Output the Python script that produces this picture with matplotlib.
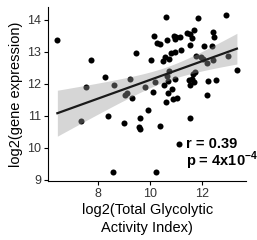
import numpy as np
import matplotlib
matplotlib.use("Agg")
import matplotlib.pyplot as plt

plt.rcParams['font.family'] = ['Liberation Sans', 'DejaVu Sans']
plt.rcParams['mathtext.fontset'] = 'custom'
plt.rcParams['mathtext.rm'] = 'Liberation Sans'
plt.rcParams['mathtext.bf'] = 'Liberation Sans:bold'

# glycolytic activity index (log2) vs gene expression (log2)
gai = [6.41, 7.70, 7.50, 7.31, 8.27, 8.36, 8.59, 8.57, 9.00, 9.04,
       9.11, 9.21, 9.30, 9.46, 9.62, 9.56, 9.59, 9.81, 9.90, 10.02,
       10.11, 10.16, 10.20, 10.24, 10.27, 10.37, 10.37, 10.50, 10.56, 10.61,
       10.65, 10.55, 10.65, 10.63, 10.68, 10.71, 10.75, 10.75, 10.82, 10.85,
       10.88, 10.91, 10.95, 10.95, 10.97, 11.04, 11.17, 11.19, 11.13, 11.42,
       11.53, 11.68, 11.62, 11.55, 11.49, 11.62, 11.66, 11.53, 11.68, 11.53,
       11.76, 11.75, 11.85, 11.96, 12.05, 12.10, 12.22, 12.23, 12.22, 12.39,
       12.43, 12.45, 12.49, 12.55, 12.94, 13.03, 13.36, 11.01]
expr = [13.36, 12.73, 11.90, 10.83, 12.20, 10.99, 11.96, 9.25, 10.78, 11.65,
        11.70, 12.14, 11.54, 12.95, 10.93, 10.65, 10.57, 11.90, 11.18, 12.73,
        11.73, 13.48, 12.06, 9.23, 13.28, 13.25, 10.68, 12.71, 12.85, 14.10,
        13.36, 11.96, 12.23, 11.43, 11.70, 12.09, 12.76, 12.40, 12.97, 11.85,
        11.52, 13.48, 13.40, 12.99, 12.16, 11.54, 13.45, 13.07, 10.10, 13.59,
        13.54, 13.67, 13.43, 13.21, 12.11, 12.16, 12.30, 11.96, 12.04, 10.93,
        12.86, 12.37, 14.05, 12.84, 12.78, 13.17, 12.64, 12.07, 11.66, 13.17,
        12.73, 13.62, 13.46, 12.11, 14.15, 12.86, 12.42, 13.46]

r_text = "r = 0.39"
p_text = r"p = 4x10$^{\mathbf{-4}}$"

x = np.array(gai)
y = np.array(expr)
n = len(x)

# linear fit with 95% confidence band
slope, icpt = np.polyfit(x, y, 1)
xs = np.linspace(x.min(), x.max(), 100)
ys = icpt + slope * xs
resid = y - (icpt + slope * x)
s = np.sqrt(np.sum(resid ** 2) / (n - 2))
se = s * np.sqrt(1 / n + (xs - x.mean()) ** 2 / np.sum((x - x.mean()) ** 2))
t = 1.99
lo, hi = ys - t * se, ys + t * se

fig = plt.figure(figsize=(2.57, 2.40), dpi=100)
ax = fig.add_axes([0.188, 0.246, 0.769, 0.725])

ax.scatter(x, y, s=19, color='black', linewidths=0, zorder=2)
ax.fill_between(xs, lo, hi, color='#999999', alpha=0.4, linewidth=0, zorder=3)
ax.plot(xs, ys, color='#1a1a1a', lw=1.6, zorder=4)

ax.set_xlim(6.06, 13.71)
ax.set_ylim(8.96, 14.4)
ax.set_xticks([8, 10, 12])
ax.set_yticks([9, 10, 11, 12, 13, 14])

for side in ['top', 'right']:
    ax.spines[side].set_visible(False)
for side in ['left', 'bottom']:
    ax.spines[side].set_linewidth(0.8)
ax.tick_params(direction='out', length=3, width=0.8, labelsize=9, pad=2,
               colors='black')
ax.tick_params(labelcolor='#333333')

ax.set_xlabel("log2(Total Glycolytic\nActivity Index)", fontsize=10.5,
              labelpad=2, linespacing=1.35)
ax.set_ylabel("log2(gene expression)", fontsize=10.5, labelpad=3)

ax.text(11.38, 10.0, r_text, fontsize=10.5, fontweight='bold', va='baseline')
ax.text(11.38, 9.44, p_text, fontsize=10.5, fontweight='bold', va='baseline')

fig.savefig("out.png", dpi=100)
